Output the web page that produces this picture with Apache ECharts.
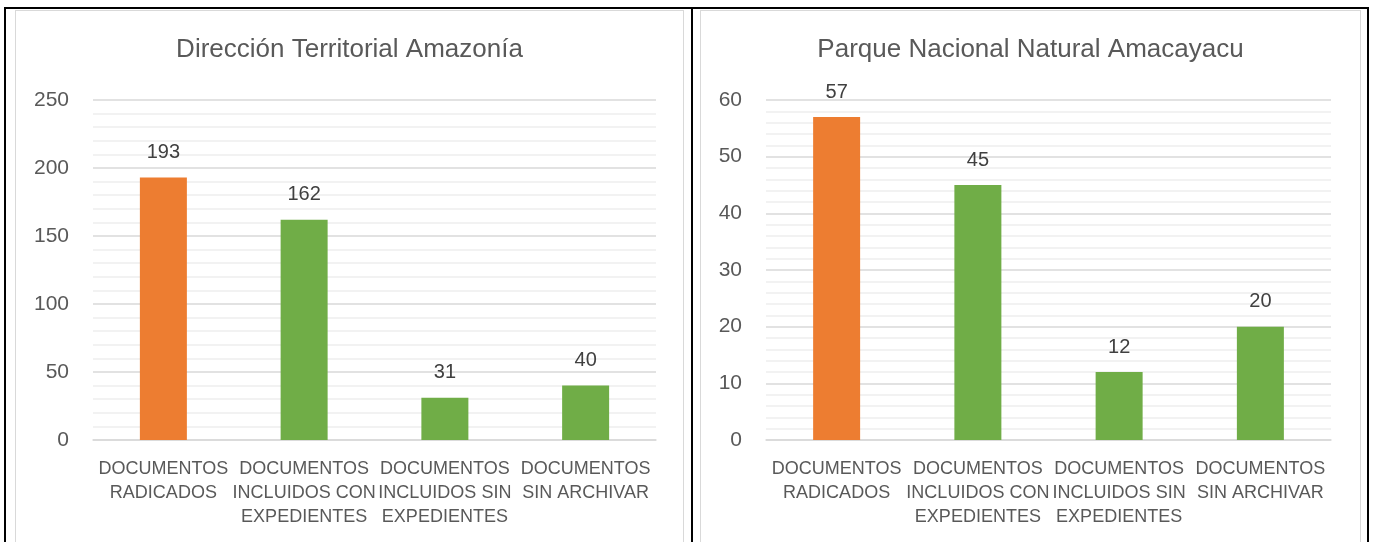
<!DOCTYPE html>
<html>
<head>
<meta charset="utf-8">
<script src="https://cdn.jsdelivr.net/npm/echarts@6/dist/echarts.min.js"></script>
<style>
	html, body { margin: 0; padding: 0; background: #fff; width: 1373px; height: 542px; overflow: hidden; }
	.frame { position: absolute; left: 4px; top: 7px; width: 1361px; height: 540px; border: 2px solid #000; border-bottom: none; }
	.divider { position: absolute; left: 691px; top: 7px; width: 2px; height: 540px; background: #000; }
	.panel { position: absolute; top: 10px; height: 540px; border: 1px solid #d9d9d9; border-bottom: none; background: #fff; }
	.chart { width: 100%; height: 531px; }
</style>
</head>
<body>
<div class="frame"></div>
<div class="divider"></div>
<div class="panel" style="left: 15px; width: 667px;"><div class="chart" id="chartLeft"></div></div>
<div class="panel" style="left: 700px; width: 659px;"><div class="chart" id="chartRight"></div></div>
<script>
// categorías comunes
const categories = [
	'DOCUMENTOS\nRADICADOS',
	'DOCUMENTOS\nINCLUIDOS CON\nEXPEDIENTES',
	'DOCUMENTOS\nINCLUIDOS SIN\nEXPEDIENTES',
	'DOCUMENTOS\nSIN ARCHIVAR'
];
const barColors = ['#ED7D31', '#70AD47', '#70AD47', '#70AD47'];

// Dirección Territorial Amazonía
const leftTitle = 'Dirección Territorial Amazonía';
const leftValues = [193, 162, 31, 40];
const leftAxis = { min: 0, max: 250, interval: 50 };

// Parque Nacional Natural Amacayacu
const rightTitle = 'Parque Nacional Natural Amacayacu';
const rightValues = [57, 45, 12, 20];
const rightAxis = { min: 0, max: 60, interval: 10 };

const textColor = '#595959';
const baseFont = '"Liberation Sans", sans-serif';

const buildOption = (title, values, axis, grid) => ({
	animation: false,
	title: {
		text: title,
		left: 'center',
		top: 21,
		textStyle: { fontFamily: baseFont, fontSize: 26, fontWeight: 'normal', color: textColor }
	},
	grid: grid,
	xAxis: {
		type: 'category',
		data: categories,
		axisLine: { lineStyle: { color: '#d9d9d9', width: 1.5 } },
		axisTick: { show: false },
		axisLabel: {
			interval: 0,
			margin: 17,
			fontFamily: baseFont,
			fontSize: 18,
			lineHeight: 24,
			color: textColor
		}
	},
	yAxis: {
		type: 'value',
		min: axis.min,
		max: axis.max,
		interval: axis.interval,
		axisLine: { show: false },
		axisTick: { show: false },
		axisLabel: { margin: 24, fontFamily: baseFont, fontSize: 21, color: textColor },
		splitLine: { lineStyle: { color: '#d9d9d9', width: 1.5 } },
		minorTick: { show: false, splitNumber: 5 },
		minorSplitLine: { show: true, lineStyle: { color: '#eeeeee', width: 1.5 } }
	},
	series: [
		{
			type: 'bar',
			barWidth: 47,
			data: values.map((v, i) => ({ value: v, itemStyle: { color: barColors[i] } })),
			label: {
				show: true,
				position: 'top',
				distance: 15,
				fontFamily: baseFont,
				fontSize: 20,
				color: '#404040'
			}
		}
	]
});

const chartLeft = echarts.init(document.getElementById('chartLeft'));
chartLeft.setOption(buildOption(leftTitle, leftValues, leftAxis, { left: 77, right: 27, top: 89, bottom: 102 }));

const chartRight = echarts.init(document.getElementById('chartRight'));
chartRight.setOption(buildOption(rightTitle, rightValues, rightAxis, { left: 65, right: 29, top: 89, bottom: 102 }));
</script>
</body>
</html>
